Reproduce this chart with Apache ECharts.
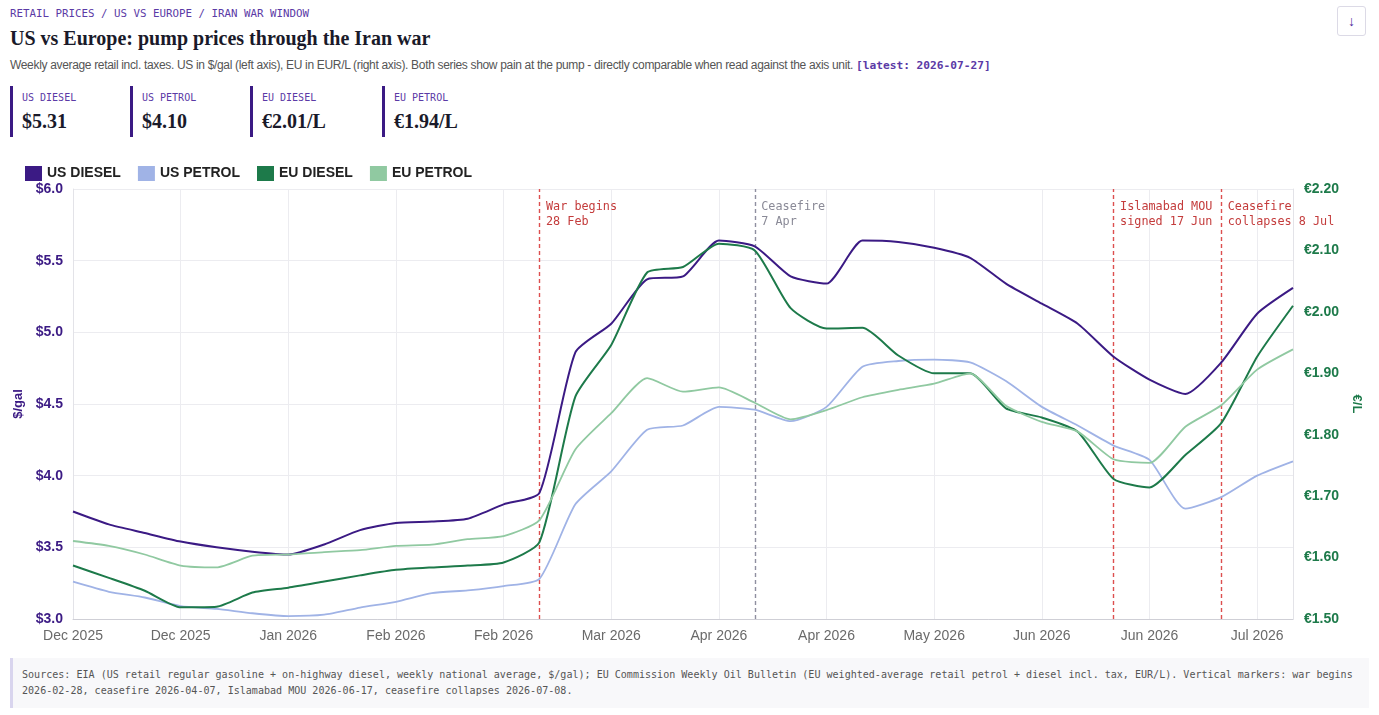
<!DOCTYPE html>
<html>
<head>
<meta charset="utf-8">
<script src="https://cdn.jsdelivr.net/npm/echarts@6/dist/echarts.min.js"></script>
<style>
  html, body { margin:0; padding:0; background:#fff; width:1379px; height:715px; overflow:hidden; }
  .abs { position:absolute; }
  .mono { font-family:"DejaVu Sans Mono","Liberation Mono",monospace; }
  #crumb { left:10px; top:7px; font-size:10.8px; color:#5b3aa6; }
  #title { left:10px; top:27px; font-family:"Liberation Serif","DejaVu Serif",serif; font-weight:bold; font-size:20px; color:#1a1a2a; }
  #sub { left:10px; top:58px; font-family:"Liberation Sans","Noto Sans",sans-serif; font-size:12px; letter-spacing:-0.33px; color:#555; white-space:nowrap; }
  #sub .mono { color:#5b3aa6; font-size:11.2px; letter-spacing:0; font-weight:bold; }
  .kpi { position:absolute; top:86px; height:51px; border-left:3px solid #3b1a84; padding-left:9px; }
  .kpi .lab { position:absolute; left:9px; top:6px; font-size:10px; color:#5b3aa6; white-space:nowrap; }
  .kpi .val { position:absolute; left:9px; top:24px; font-family:"Liberation Serif","DejaVu Serif",serif; font-weight:bold; font-size:20px; color:#1a1a2a; white-space:nowrap; }
  #dl { left:1337px; top:6px; width:29px; height:30px; border:1px solid #dcdae6; border-radius:3px; color:#4b2a9a; font-size:14px; text-align:center; line-height:30px; font-weight:bold; box-sizing:border-box; }
  #chart { position:absolute; left:0; top:155px; width:1379px; height:495px; }
  #foot { left:10px; top:658px; width:1359px; height:50px; background:#f8f8fa; border-left:3px solid #d9d5ee; box-sizing:border-box; padding:9px 8px 0 9px; font-size:10.05px; line-height:16px; color:#555; }
</style>
</head>
<body>
<div id="crumb" class="abs mono">RETAIL PRICES / US VS EUROPE / IRAN WAR WINDOW</div>
<div id="title" class="abs">US vs Europe: pump prices through the Iran war</div>
<div id="sub" class="abs">Weekly average retail incl. taxes. US in $/gal (left axis), EU in EUR/L (right axis). Both series show pain at the pump - directly comparable when read against the axis unit. <span class="mono">[latest: 2026-07-27]</span></div>
<div id="kpis"></div>
<div id="dl" class="abs">&#8595;</div>
<div id="chart"></div>
<div id="foot" class="abs mono">Sources: EIA (US retail regular gasoline + on-highway diesel, weekly national average, $/gal); EU Commission Weekly Oil Bulletin (EU weighted-average retail petrol + diesel incl. tax, EUR/L). Vertical markers: war begins 2026-02-28, ceasefire 2026-04-07, Islamabad MOU 2026-06-17, ceasefire collapses 2026-07-08.</div>
<script>
// ---- data ----
const weeks = ['2025-12-01','2025-12-08','2025-12-15','2025-12-22','2025-12-29','2026-01-05','2026-01-12','2026-01-19','2026-01-26','2026-02-02','2026-02-09','2026-02-16','2026-02-23','2026-03-02','2026-03-09','2026-03-16','2026-03-23','2026-03-30','2026-04-06','2026-04-13','2026-04-20','2026-04-27','2026-05-04','2026-05-11','2026-05-18','2026-05-25','2026-06-01','2026-06-08','2026-06-15','2026-06-22','2026-06-29','2026-07-06','2026-07-13','2026-07-20','2026-07-27'];
const usDiesel = [3.75,3.66,3.60,3.54,3.50,3.47,3.45,3.52,3.62,3.67,3.68,3.70,3.80,3.88,4.86,5.06,5.37,5.39,5.64,5.60,5.39,5.34,5.64,5.63,5.59,5.52,5.34,5.20,5.06,4.83,4.67,4.57,4.79,5.13,5.31];
const usPetrol = [3.26,3.19,3.15,3.09,3.07,3.04,3.02,3.03,3.08,3.12,3.18,3.20,3.23,3.28,3.80,4.03,4.32,4.35,4.48,4.46,4.38,4.48,4.76,4.80,4.81,4.79,4.66,4.48,4.35,4.21,4.11,3.77,3.85,4.00,4.10];
const euDiesel = [1.587,1.567,1.546,1.519,1.520,1.543,1.551,1.561,1.571,1.580,1.584,1.587,1.592,1.625,1.862,1.946,2.064,2.073,2.111,2.100,2.006,1.973,1.974,1.929,1.900,1.900,1.843,1.828,1.805,1.728,1.714,1.767,1.819,1.927,2.010];
const euPetrol = [1.627,1.619,1.605,1.587,1.584,1.603,1.605,1.609,1.612,1.619,1.621,1.630,1.635,1.661,1.776,1.835,1.892,1.870,1.877,1.852,1.825,1.840,1.861,1.873,1.883,1.900,1.847,1.821,1.805,1.760,1.754,1.813,1.848,1.906,1.939];
const seriesNames = ['US DIESEL','US PETROL','EU DIESEL','EU PETROL'];
const kpiLabels = ['US DIESEL','US PETROL','EU DIESEL','EU PETROL'];
const kpiValues = ['$5.31','$4.10','€2.01/L','€1.94/L'];
const eventWeeks = ['2026-03-02','2026-04-13','2026-06-22','2026-07-13'];
const eventLabels = ['War begins\n28 Feb','Ceasefire\n7 Apr','Islamabad MOU\nsigned 17 Jun','Ceasefire\ncollapses 8 Jul'];
const leftTicks = {min:3.0, max:6.0, interval:0.5};
const rightTicks = {min:1.5, max:2.2, interval:0.1};
const monthNames = ['Jan','Feb','Mar','Apr','May','Jun','Jul','Aug','Sep','Oct','Nov','Dec'];

// ---- KPI cards ----
const kpiLeft = [10,130,250,382];
const kpis = document.getElementById('kpis');
kpiLabels.forEach((l,i)=>{
  const d = document.createElement('div');
  d.className='kpi';
  d.style.left = kpiLeft[i]+'px';
  d.innerHTML = '<div class="lab mono">'+l+'</div><div class="val">'+kpiValues[i]+'</div>';
  kpis.appendChild(d);
});

// ---- chart ----
const colors = ['#3b1a84','#a0b3e6','#1d7a4a','#90c9a1'];
const eventLineColors = ['#dd4f4f','#8f8fa0','#dd4f4f','#dd4f4f'];
const eventTextColors = ['#c43c3c','#8a8a97','#c43c3c','#c43c3c'];
const axisFont = '"Liberation Sans Narrow","Liberation Sans","Arial Narrow",sans-serif';
const monoFont = '"DejaVu Sans Mono","Liberation Mono",monospace';

const chart = echarts.init(document.getElementById('chart'), null, {renderer:'canvas'});

const markLineData = eventWeeks.map((w,i)=>({xAxis:w, lineStyle:{color:eventLineColors[i], type:[4,3], width:1.4, opacity:1}}));
const markPointData = eventWeeks.map((w,i)=>({coord:[w, leftTicks.max], label:{color:eventTextColors[i]}}));

function mkSeries(name, data, color, yIdx, width, extra){
  return Object.assign({
    name, type:'line', data, yAxisIndex:yIdx, showSymbol:false, symbol:'none',
    smooth:0.2, lineStyle:{color, width}, itemStyle:{color}, z: 3
  }, extra||{});
}

chart.setOption({
  animation:false,
  color: colors,
  legend: {
    top:6, left:20, itemWidth:17, itemHeight:15, itemGap:17, icon:'rect',
    textStyle:{fontFamily:'"Liberation Sans",Arial,sans-serif', fontWeight:'bold', fontSize:14, color:'#222'},
    data: seriesNames
  },
  grid: { left:73, right:86, top:34, bottom:31, containLabel:false },
  xAxis: {
    type:'category', data:weeks, boundaryGap:false,
    axisLine:{lineStyle:{color:'#cfcfd6'}},
    axisTick:{show:false},
    axisLabel:{
      interval:2, color:'#6a6a6a', fontFamily:axisFont, fontSize:14, margin:10,
      formatter:(v)=>{ const p=v.split('-'); return monthNames[parseInt(p[1],10)-1]+' '+p[0]; }
    },
    splitLine:{show:true, interval:2, lineStyle:{color:'#ececf0'}}
  },
  yAxis: [
    {
      type:'value', position:'left', min:leftTicks.min, max:leftTicks.max, interval:leftTicks.interval,
      name:'$/gal', nameLocation:'middle', nameGap:48,
      nameTextStyle:{color:'#3b1a84', fontWeight:'bold', fontSize:13, fontFamily:'"Liberation Sans",Arial,sans-serif'},
      axisLine:{show:true, lineStyle:{color:'#e3e3e8'}}, axisTick:{show:false},
      axisLabel:{color:'#3b1a84', fontFamily:axisFont, fontSize:14, fontWeight:'bold', margin:10, formatter:(v)=>'$'+v.toFixed(1)},
      splitLine:{lineStyle:{color:'#ececf0'}}
    },
    {
      type:'value', position:'right', min:rightTicks.min, max:rightTicks.max, interval:rightTicks.interval,
      name:'€/L', nameLocation:'middle', nameGap:56, nameRotate:-90,
      nameTextStyle:{color:'#1d7a4a', fontWeight:'bold', fontSize:13, fontFamily:'"Liberation Sans",Arial,sans-serif'},
      axisLine:{show:true, lineStyle:{color:'#e3e3e8'}}, axisTick:{show:false},
      axisLabel:{color:'#1d7a4a', fontFamily:axisFont, fontSize:14, fontWeight:'bold', margin:11, formatter:(v)=>'€'+v.toFixed(2)},
      splitLine:{show:false}
    }
  ],
  series: [
    mkSeries(seriesNames[0], usDiesel, colors[0], 0, 2, {
      markLine:{ silent:true, symbol:['none','none'], label:{show:false}, data:markLineData, z:1 },
      markPoint:{ silent:true, symbol:'rect', symbolSize:1, itemStyle:{color:'rgba(0,0,0,0)'},
        label:{show:true, position:[7,11], formatter:(p)=>eventLabels[p.dataIndex], fontFamily:monoFont, fontSize:11.8, lineHeight:15, align:'left', verticalAlign:'top'},
        data: markPointData }
    }),
    mkSeries(seriesNames[1], usPetrol, colors[1], 0, 1.8),
    mkSeries(seriesNames[2], euDiesel, colors[2], 1, 2),
    mkSeries(seriesNames[3], euPetrol, colors[3], 1, 1.8)
  ]
});
</script>
</body>
</html>
